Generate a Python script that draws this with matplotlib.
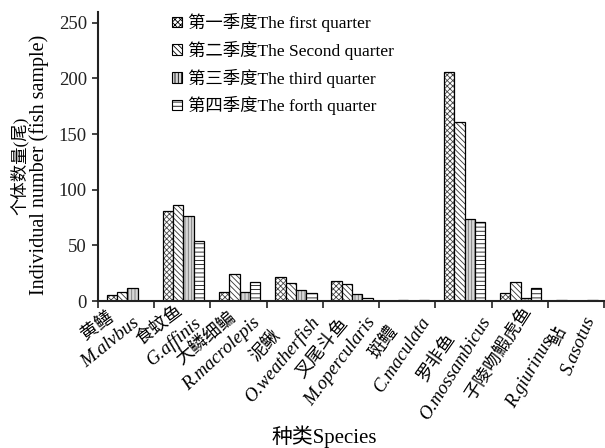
import matplotlib
matplotlib.use('Agg')
import matplotlib.pyplot as plt
import numpy as np
from matplotlib.patches import Patch
from matplotlib.transforms import IdentityTransform

# ---------------- data ----------------
species_cn = ['黄鳝', '食蚊鱼', '大鳞细鳊', '泥鳅', '叉尾斗鱼', '斑鳢', '罗非鱼', '子陵吻鰕虎鱼', '鲇']
species_la = ['M.alvbus', 'G.affinis', 'R.macrolepis', 'O.weatherfish', 'M.opercularis',
              'C.maculata', 'O.mossambicus', 'R.giurinus', 'S.asotus']
q1 = [5, 81, 8, 22, 18, 0, 206, 7, 1]
q2 = [8, 86, 24, 16, 15, 1, 161, 17, 0]
q3 = [12, 76, 8, 10, 6, 0, 74, 3, 0]
q4 = [0, 54, 17, 7, 3, 1, 71, 12, 1]
series_labels = ['第一季度The first quarter', '第二季度The Second quarter',
                 '第三季度The third quarter', '第四季度The forth quarter']
yticks = [0, 50, 100, 150, 200, 250]
ylabel_cn = '个体数量(尾)'
ylabel_en = 'Individual number (fish sample)'
xlabel = '种类Species'

# ---------------- style ----------------
serif = ['Liberation Serif', 'Noto Sans CJK SC']
plt.rcParams['font.family'] = serif
plt.rcParams['hatch.linewidth'] = 0.6

W_FIG, H_FIG = 605, 448
fig = plt.figure(figsize=(W_FIG / 100, H_FIG / 100), dpi=100)
ax = fig.add_axes([98 / W_FIG, 1 - 301 / H_FIG, 506 / W_FIG, (301 - 11.7) / H_FIG])

styles = [
    dict(hatch='xxxxxx', fc='white', hc='#444444'),
    dict(hatch='\\\\\\\\\\\\', fc='white', hc='#333333'),
    dict(hatch='|||||', fc='#d6d6d6', hc='#777777'),
    dict(hatch='----', fc='white', hc='#111111'),
]
series = [q1, q2, q3, q4]
x = np.arange(len(species_cn))
w = 0.184
for j, (vals, st) in enumerate(zip(series, styles)):
    pos = x + (j - 1.5) * w + 0.02
    ax.bar(pos, vals, w, color=st['fc'], edgecolor=st['hc'], hatch=st['hatch'], linewidth=0)
    ax.bar(pos, vals, w, fill=False, edgecolor='black', linewidth=0.9)

ax.set_xlim(-0.5, len(species_cn) - 0.5)
ax.set_ylim(0, 260)
ax.set_yticks(yticks)
ax.set_xticks(np.arange(len(species_cn) + 1) - 0.5)
ax.set_xticklabels([])
for side in ('top', 'right'):
    ax.spines[side].set_visible(False)
for side in ('left', 'bottom'):
    ax.spines[side].set_linewidth(1.5)
    ax.spines[side].set_color('#222222')
ax.tick_params(axis='y', direction='out', length=4, width=1.2, labelsize=13.5, pad=4, colors='#222222')
ax.tick_params(axis='x', direction='out', length=5, width=1.2, colors='#222222')

# legend
handles = [Patch(facecolor=st['fc'], edgecolor='black', hatch=st['hatch'], linewidth=0.8) for st in styles]
leg = ax.legend(handles, series_labels, loc='upper left',
                bbox_to_anchor=(172 / W_FIG, 1 - 13 / H_FIG), bbox_transform=fig.transFigure,
                frameon=False, fontsize=12.5, handlelength=0.55, handleheight=0.55,
                handletextpad=0.35, labelspacing=0.5, borderpad=0, borderaxespad=0)

# axis titles
fig.text(19 / W_FIG, 1 - 166 / H_FIG, ylabel_cn, rotation=90, ha='center', va='center', fontsize=12.5)
fig.text(39.5 / W_FIG, 1 - 165 / H_FIG, ylabel_en, rotation=90, ha='center', va='center', fontsize=14.5)
fig.text(324 / W_FIG, 1 - 437 / H_FIG, xlabel, ha='center', va='center', fontsize=15)

# rotated two-line category labels
rot = [39, 40, 43, 50, 53, 56, 58, 60, 67]
dxs = [5, 10, 12, 14, 13, 11, 15, 16, 6]
extra = [0, 0, 0, 0, 0, 0, 0, 15, 0]
fig.canvas.draw()
r = fig.canvas.get_renderer()
y0 = ax.transData.transform((0, 0))[1]
sC, sL = 12, 10
for i in range(len(species_cn)):
    th = np.deg2rad(rot[i])
    t1 = fig.text(0, 0, species_cn[i], fontsize=13, family=serif)
    t2 = fig.text(0, 0, species_la[i], fontsize=13.5, family='Liberation Serif', style='italic')
    Wt = max(t1.get_window_extent(r).width, t2.get_window_extent(r).width)
    xc = ax.transData.transform((i, 0))[0]
    R = np.array([xc + dxs[i], y0 - 12])
    u = np.array([np.cos(th), np.sin(th)])
    n = np.array([np.sin(th), -np.cos(th)])
    C = R - u * Wt / 2
    for t, off, rr in ((t1, -sC, rot[i] - 3), (t2, sL + extra[i], rot[i])):
        p = C + off * n
        t.set_transform(IdentityTransform())
        t.set_position((p[0], p[1]))
        t.set_rotation(rr)
        t.set_rotation_mode('anchor')
        t.set_ha('center')
        t.set_va('center')

fig.savefig('out.png', dpi=100)
